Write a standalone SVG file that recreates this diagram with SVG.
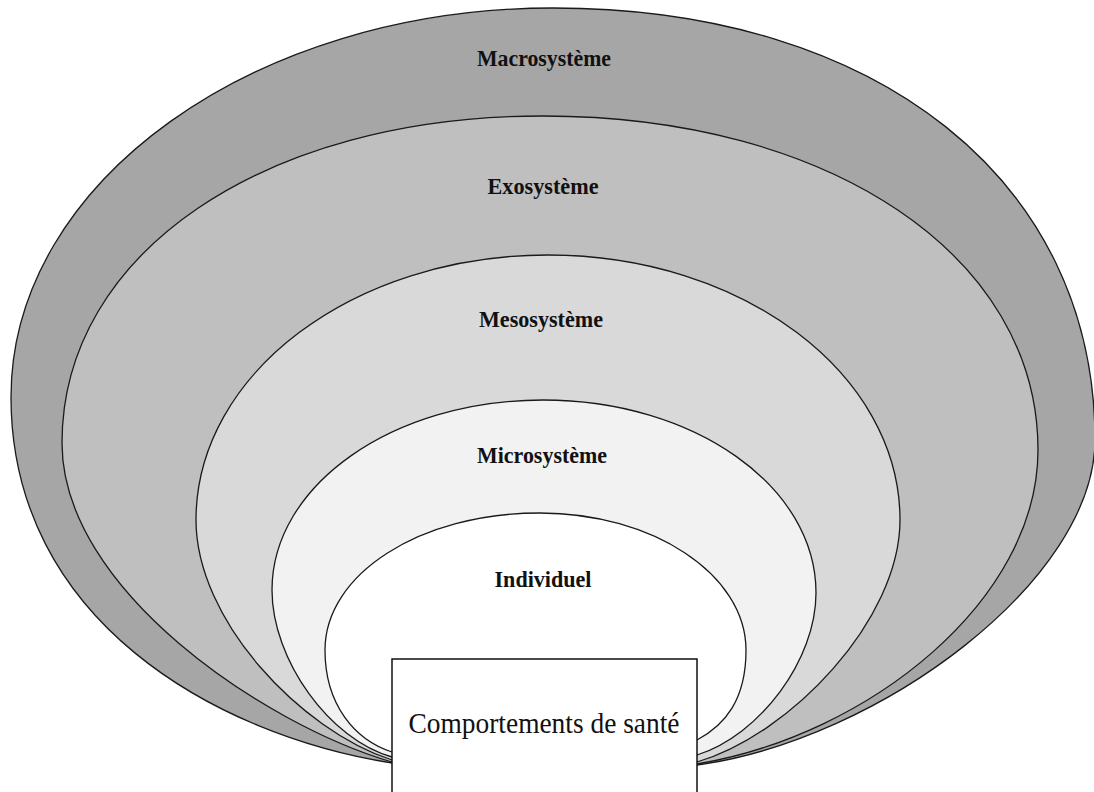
<svg xmlns="http://www.w3.org/2000/svg" width="1094" height="792" viewBox="0 0 1094 792">
<style>
.ring{stroke:#1a1a1a;stroke-width:1.3;stroke-linejoin:round}
.lbl{font-family:"Liberation Serif","Times New Roman",serif;font-weight:bold;font-size:23.5px;fill:#111;text-anchor:middle}
.core{font-family:"Liberation Serif","Times New Roman",serif;font-size:29px;fill:#111;text-anchor:middle}
</style>
<rect width="1094" height="792" fill="#ffffff"/>
<g id="macrosysteme">
<path class="ring" fill="#a6a6a6" d="M392,763 C215,735 11,620 11,397 C11,182 254,8 553,8 C878,8 1095,181 1095,440 C1095,580 880,740 697,765 Z"/>
<text class="lbl" x="544" y="66" textLength="134" lengthAdjust="spacingAndGlyphs">Macrosystème</text>
</g>
<g id="exosysteme">
<path class="ring" fill="#bfbfbf" d="M392,762 C265,725 62,590 62,443 C62,253 264,116 543,116 C830,116 1038,256 1038,450 C1038,600 870,735 697,764 Z"/>
<text class="lbl" x="543" y="194" textLength="111" lengthAdjust="spacingAndGlyphs">Exosystème</text>
</g>
<g id="mesosysteme">
<path class="ring" fill="#d9d9d9" d="M392,760 C300,730 196,620 196,520 C196,373.6 353.6,255 548,255 C742.4,255 900,373.6 900,520 C900,620 790,735 697,762 Z"/>
<text class="lbl" x="541" y="327" textLength="124" lengthAdjust="spacingAndGlyphs">Mesosystème</text>
</g>
<g id="microsysteme">
<path class="ring" fill="#f2f2f2" d="M392,757 C330,740 272,660 272,590 C272,485 393,400 543,400 C694,400 816,486 816,593 C816,660 760,735 697,755 Z"/>
<text class="lbl" x="542" y="463" textLength="130" lengthAdjust="spacingAndGlyphs">Microsystème</text>
</g>
<g id="individuel">
<path class="ring" fill="#ffffff" d="M392,752 C355,740 325,705 325,650 C325,574 420,513 540,513 C652,513 746,574 746,650 C746,700 725,725 697,740 Z"/>
<text class="lbl" x="543" y="587" textLength="97" lengthAdjust="spacingAndGlyphs">Individuel</text>
</g>
<g id="comportements">
<rect x="392" y="659" width="305" height="150" fill="#ffffff" stroke="#111" stroke-width="1.5"/>
<text class="core" x="544" y="733" textLength="271" lengthAdjust="spacingAndGlyphs">Comportements de santé</text>
</g>
<g id="connectors"/>
</svg>
